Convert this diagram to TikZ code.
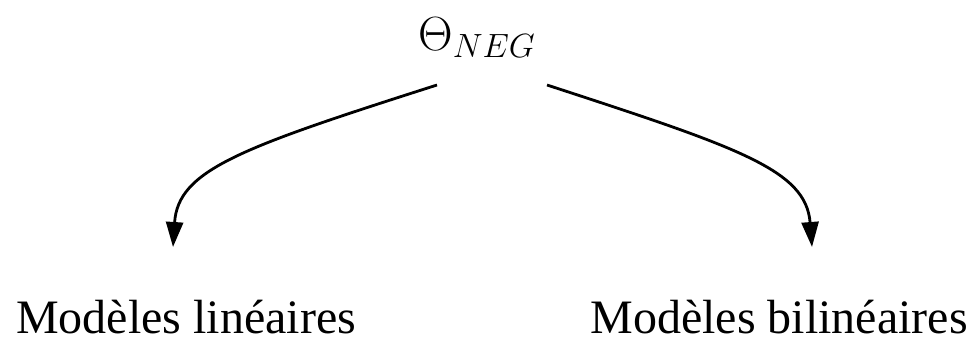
\RequirePackage{fix-cm}
\documentclass[tikz,border=0pt]{standalone}
\usepackage{fontspec}
\setmainfont{Liberation Serif}
\usetikzlibrary{arrows.meta}
\begin{document}
\begin{tikzpicture}[x=1pt,y=-1pt,
  lbl/.style={inner sep=0pt,font=\fontsize{48}{58}\selectfont},
  conn/.style={line width=2.8pt,-{Triangle[length=25pt,width=17pt]}}]
\useasboundingbox (0,0) rectangle (973,337);
\node[lbl,anchor=base west] (theta) at (418,50) {$\Theta_{NEG}$};
\node[lbl,anchor=base west] (lin) at (16,333) {Modèles linéaires};
\node[lbl,anchor=base east] (bil) at (968,333) {Modèles bilinéaires};
\coordinate (s1) at (437,85);
\coordinate (s2) at (547,85);
\coordinate (t1) at (173,247);
\coordinate (t2) at (812,247);
\draw[conn] (s1) .. controls (240,148) and (178,170) .. (t1);
\draw[conn] (s2) .. controls (740,148) and (806,170) .. (t2);
\end{tikzpicture}
\end{document}
